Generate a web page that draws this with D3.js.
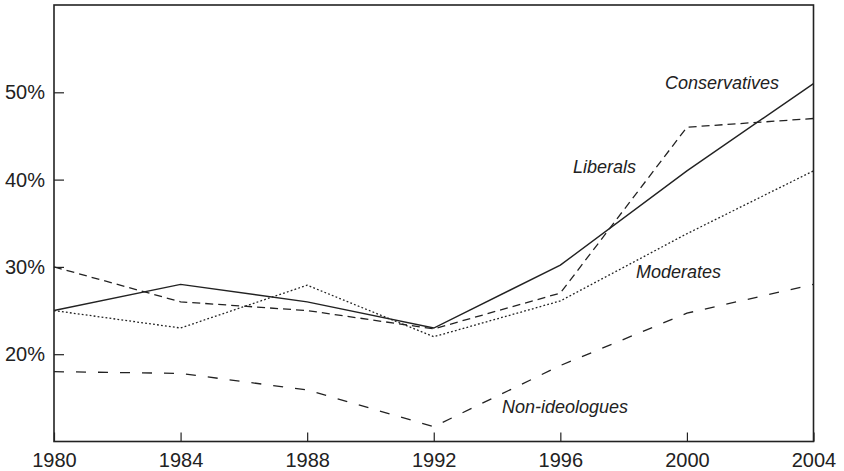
<!DOCTYPE html>
<html>
<head>
<meta charset="utf-8">
<script src="https://cdn.jsdelivr.net/npm/d3@7/dist/d3.min.js"></script>
<style>
  html, body { margin: 0; padding: 0; background: #fff; }
  svg { display: block; }
</style>
</head>
<body>
<svg id="chart" width="844" height="471"></svg>
<script>
const years = [1980, 1984, 1988, 1992, 1996, 2000, 2004];
const conservatives = [25, 28, 26, 23, 30.2, 41, 51];
const liberals = [30, 26, 25, 22.9, 27, 46, 47];
const moderates = [25, 23, 27.9, 22, 26.1, 33.8, 41];
const nonIdeologues = [18, 17.8, 15.9, 11.7, 18.7, 24.7, 28];
const yTicks = [20, 30, 40, 50];
const xTicks = [1980, 1984, 1988, 1992, 1996, 2000, 2004];

const seriesNames = ["Conservatives", "Liberals", "Moderates", "Non-ideologues"];
const seriesValues = [conservatives, liberals, moderates, nonIdeologues];
const seriesDash = [null, "8,5", "1.8,2.2", "10,12"];
const labelAnchor = [[665, 89], [573, 173], [636, 278], [502, 413]];

const svg = d3.select("#chart");
const mLeft = 54, mRight = 813.5, mTop = 5, mBottom = 441.5;
const x = d3.scaleLinear().domain([1980, 2004]).range([mLeft, mRight]);
const y = d3.scaleLinear().domain([10, 60]).range([mBottom, mTop]);
const ink = "#222";

// frame
svg.append("rect")
  .attr("x", mLeft).attr("y", mTop)
  .attr("width", mRight - mLeft).attr("height", mBottom - mTop)
  .attr("fill", "none").attr("stroke", ink).attr("stroke-width", 1.6);

// y axis ticks (inward) and labels
const yAxis = d3.axisLeft(y).tickValues(yTicks).tickSizeInner(-10).tickSizeOuter(0)
  .tickPadding(9).tickFormat(d => d + "%");
const gy = svg.append("g").attr("transform", `translate(${mLeft},0)`).call(yAxis);
gy.select(".domain").remove();
gy.selectAll(".tick line").attr("stroke", ink).attr("stroke-width", 1.2);
gy.selectAll(".tick text").attr("fill", ink)
  .style("font-family", "'Liberation Sans', Arial, sans-serif").style("font-size", "20px");

// x axis ticks (inward) and labels
const xAxis = d3.axisBottom(x).tickValues(xTicks).tickSizeInner(-9).tickSizeOuter(0)
  .tickPadding(11).tickFormat(d3.format("d"));
const gx = svg.append("g").attr("transform", `translate(0,${mBottom})`).call(xAxis);
gx.select(".domain").remove();
gx.selectAll(".tick line").attr("stroke", ink).attr("stroke-width", 1.2);
gx.selectAll(".tick text").attr("fill", ink)
  .style("font-family", "'Liberation Sans', Arial, sans-serif").style("font-size", "20px");

// lines
const line = d3.line().x((d, i) => x(years[i])).y(d => y(d));
seriesValues.forEach((vals, k) => {
  const p = svg.append("path")
    .attr("d", line(vals))
    .attr("fill", "none")
    .attr("stroke", ink)
    .attr("stroke-width", k === 0 ? 1.4 : 1.3);
  if (seriesDash[k]) p.attr("stroke-dasharray", seriesDash[k]);
});

// series labels
seriesNames.forEach((name, k) => {
  svg.append("text")
    .attr("x", labelAnchor[k][0]).attr("y", labelAnchor[k][1])
    .attr("fill", ink)
    .style("font-family", "'Liberation Sans', Arial, sans-serif")
    .style("font-size", "18px").style("font-style", "italic")
    .text(name);
});
</script>
</body>
</html>
